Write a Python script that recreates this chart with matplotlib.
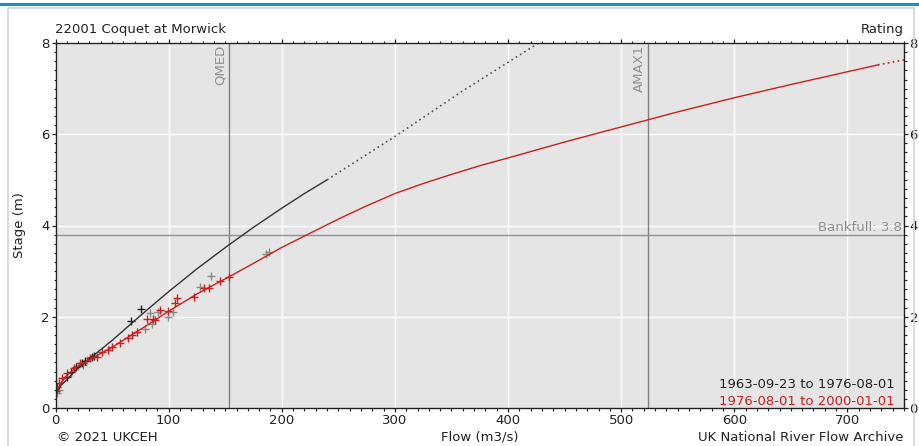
import matplotlib
matplotlib.use("Agg")
import matplotlib.pyplot as plt
from matplotlib.lines import Line2D
from matplotlib.patches import Rectangle
from matplotlib.ticker import MultipleLocator
import numpy as np

# ---- data ----
# Rating 1963-09-23 to 1976-08-01 (black)
black_flow = [0, 2, 5, 10, 20, 30, 40, 50, 67, 80, 100, 125, 153, 175, 200, 220, 240]
black_stage = [0.25, 0.38, 0.5, 0.62, 0.88, 1.08, 1.28, 1.48, 1.85, 2.13, 2.55, 3.05, 3.57, 3.96, 4.38, 4.7, 5.0]
black_ext_flow = [240, 300, 360, 427]
black_ext_stage = [5.0, 5.95, 6.95, 8.0]

# Rating 1976-08-01 to 2000-01-01 (red)
red_flow = [0, 2, 5, 10, 20, 30, 50, 75, 100, 125, 153, 175, 200, 225, 250, 275, 300, 325, 350, 375, 400,
            450, 500, 550, 600, 650, 700, 727]
red_stage = [0.3, 0.42, 0.55, 0.72, 0.92, 1.06, 1.33, 1.72, 2.12, 2.5, 2.87, 3.17, 3.52, 3.83, 4.14, 4.43, 4.7,
             4.92, 5.12, 5.31, 5.48, 5.83, 6.16, 6.49, 6.8, 7.09, 7.37, 7.52]
red_ext_flow = [727, 750]
red_ext_stage = [7.52, 7.63]

# Gaugings
gauge_black_flow = [66.6, 75.2, 18, 23.5, 26, 32, 33.8, 14, 10]
gauge_black_stage = [1.91, 2.16, 0.9, 0.98, 1.03, 1.12, 1.15, 0.8, 0.68]
gauge_gray_flow = [83.7, 91, 99.2, 103.7, 79.3, 127.8, 137.4, 186.5, 188.8, 28, 24, 20, 85, 3, 1]
gauge_gray_stage = [2.08, 2.11, 1.99, 2.11, 1.73, 2.66, 2.89, 3.38, 3.43, 1.06, 0.95, 0.92, 1.85, 0.4, 0.33]
gauge_red_flow = [80.8, 86.6, 88.3, 92.5, 99.8, 105.7, 107.8, 122.7, 131.6, 135.7, 145, 153.6,
                  72, 63.7, 57.3, 50, 41, 36.7, 30.2, 22, 16.2, 10.3, 5.9, 2.9, 1.5, 0.8, 46, 68]
gauge_red_stage = [1.94, 1.96, 1.93, 2.15, 2.13, 2.30, 2.41, 2.44, 2.62, 2.62, 2.79, 2.87,
                   1.67, 1.53, 1.42, 1.34, 1.23, 1.12, 1.09, 0.98, 0.87, 0.76, 0.65, 0.54, 0.45, 0.38, 1.28, 1.6]

qmed = 153.5
amax1 = 524
bankfull = 3.8

# ---- figure ----
plt.rcParams['font.family'] = ['DejaVu Sans']
plt.rcParams['font.size'] = 9.5
fig = plt.figure(figsize=(9.19, 4.46), dpi=100)
fig.patch.set_facecolor('white')

# page decorations
fig.add_artist(Line2D([0, 1], [1 - 3.8/446, 1 - 3.8/446], color='#1a8fd0', lw=2.2, transform=fig.transFigure))
fig.add_artist(Rectangle((8/919, -0.01), (914-8)/919, 1 - 8/446 + 0.01, transform=fig.transFigure,
                         fill=False, edgecolor='#d4d4d4', lw=1.2))

ax = fig.add_axes([55.5/919, 1 - 408/446, (904-55.5)/919, (408-43)/446])
ax.set_facecolor('#e5e5e5')
ax.set_xlim(0, 750)
ax.set_ylim(0, 8)

ax.xaxis.set_major_locator(MultipleLocator(100))
ax.xaxis.set_minor_locator(MultipleLocator(10))
ax.yaxis.set_major_locator(MultipleLocator(2))
ax.yaxis.set_minor_locator(MultipleLocator(0.2))
ax.grid(True, which='major', color='white', lw=1.0)
ax.set_axisbelow(True)
ax.tick_params(which='both', direction='out', top=True, right=True, labelright=True,
               colors='#222222', labelsize=9.5, pad=1.0)
ax.tick_params(which='major', length=3, width=0.9)
ax.tick_params(which='minor', length=1.8, width=0.8)
for s in ax.spines.values():
    s.set_color('#222222')
    s.set_linewidth(1.0)

# reference lines
ax.axvline(qmed, color='#808080', lw=1.0)
ax.axvline(amax1, color='#808080', lw=1.0)
ax.axhline(bankfull, color='#909090', lw=1.0)
ax.text(qmed - 2, 7.97, 'QMED', rotation=90, ha='right', va='top', color='#909090', fontsize=9.5)
ax.text(amax1 - 2, 7.97, 'AMAX1', rotation=90, ha='right', va='top', color='#909090', fontsize=9.5)
ax.text(748, bankfull + 0.02, 'Bankfull: 3.8', ha='right', va='bottom', color='#909090', fontsize=9.5)

# gaugings
ax.plot(gauge_gray_flow, gauge_gray_stage, '+', color='#8a8a8a', ms=6, mew=1.0)
ax.plot(gauge_black_flow, gauge_black_stage, '+', color='#222222', ms=6, mew=1.0)
ax.plot(gauge_red_flow, gauge_red_stage, '+', color='#c8201f', ms=6, mew=1.0)

# rating curves
ax.plot(black_flow, black_stage, color='#333333', lw=1.0)
ax.plot(black_ext_flow, black_ext_stage, color='#555555', lw=1.2, ls=(0, (1, 2)))
ax.plot(red_flow, red_stage, color='#c8201f', lw=1.0)
ax.plot(red_ext_flow, red_ext_stage, color='#c8201f', lw=1.2, ls=(0, (1, 2)))

# legend text
ax.text(0.989, 0.047, '1963-09-23 to 1976-08-01', transform=ax.transAxes, ha='right', va='bottom',
        color='#222222', fontsize=9.5)
ax.text(0.989, 0.0, '1976-08-01 to 2000-01-01', transform=ax.transAxes, ha='right', va='bottom',
        color='#c8201f', fontsize=9.5)

# titles / labels
fig.text(55/919, 1 - 33/446, '22001 Coquet at Morwick', ha='left', va='baseline', color='#222222', fontsize=9.5)
fig.text(904/919, 1 - 33/446, 'Rating', ha='right', va='baseline', color='#222222', fontsize=9.5)
fig.text(20/919, 1 - 225/446, 'Stage (m)', rotation=90, ha='center', va='center', color='#222222', fontsize=9.5)
fig.text(480/919, 1 - 441/446, 'Flow (m3/s)', ha='center', va='baseline', color='#222222', fontsize=9.5)
fig.text(57/919, 1 - 441/446, '\u00a9 2021 UKCEH', ha='left', va='baseline', color='#222222', fontsize=9.5)
fig.text(903/919, 1 - 441/446, 'UK National River Flow Archive', ha='right', va='baseline', color='#222222', fontsize=9.5)

fig.savefig('out.png', dpi=100)
